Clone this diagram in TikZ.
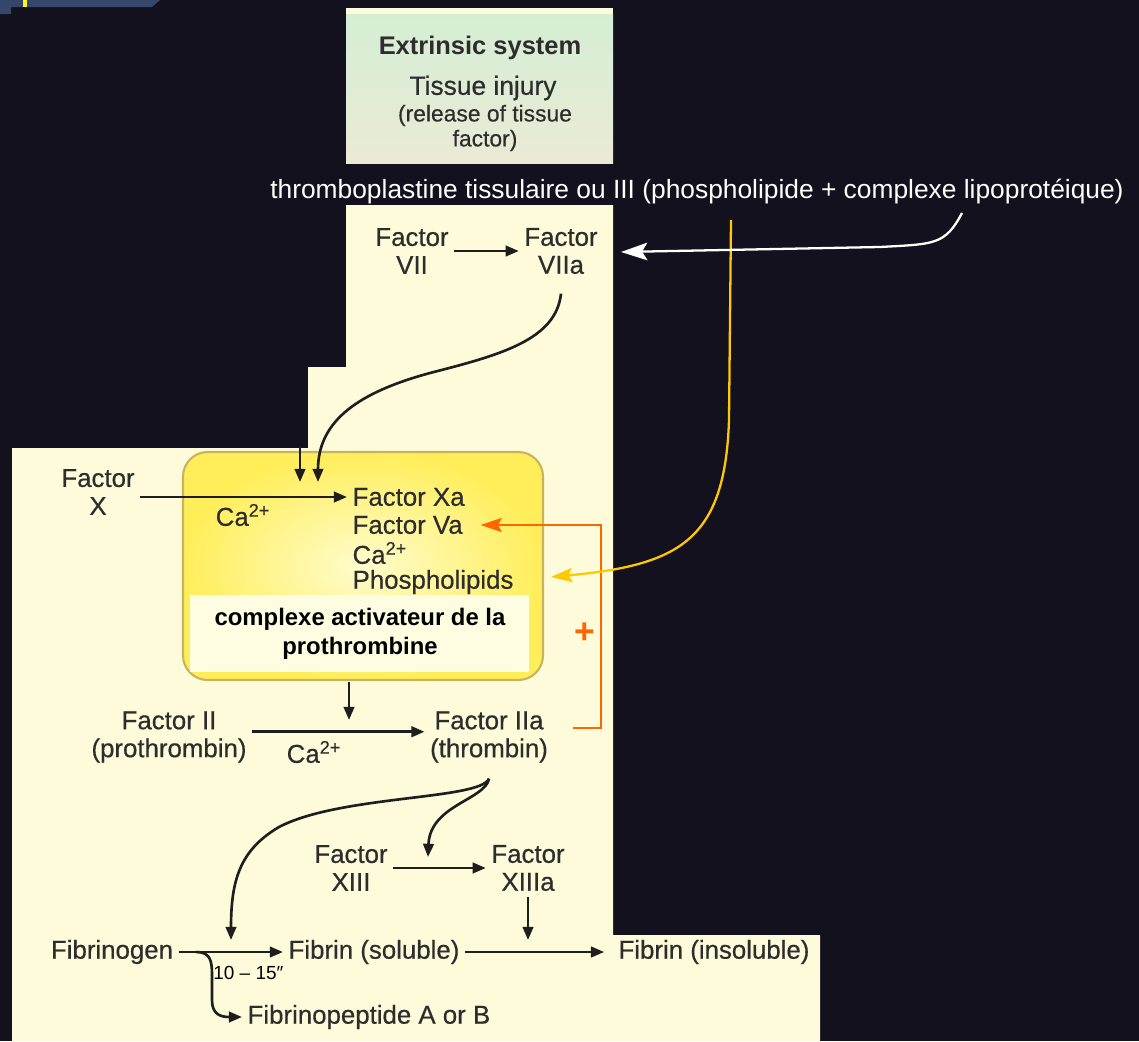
\documentclass[tikz,border=0pt]{standalone}
\usepackage{fontspec}
\setmainfont{Liberation Sans}
\newfontfamily\medfont[FakeBold=0.5]{Liberation Sans}
\usetikzlibrary{arrows.meta}
\definecolor{bgdark}{RGB}{18,17,29}
\definecolor{slideblue}{RGB}{52,71,107}
\definecolor{panel}{RGB}{253,251,218}
\definecolor{extgreen}{RGB}{212,238,212}
\definecolor{extgray}{RGB}{235,234,214}
\definecolor{boxedge}{RGB}{200,180,95}
\definecolor{boxin}{RGB}{255,252,205}
\definecolor{boxout}{RGB}{255,238,90}
\definecolor{labelfill}{RGB}{255,253,225}
\definecolor{txtgray}{RGB}{45,45,45}
\definecolor{arrgray}{RGB}{30,30,30}
\definecolor{linkyellow}{RGB}{255,200,0}
\definecolor{fborange}{RGB}{255,102,0}
\begin{document}
\begin{tikzpicture}[x=0.02cm, y=-0.02cm,
	lbl/.style={font=\medfont\fontsize{14.7}{15.9}\selectfont, text=txtgray, inner sep=3pt, align=center},
	arr/.style={line width=1.5pt, draw=arrgray, -{Triangle[length=7.5pt,width=6pt]}},
	wht/.style={line width=1.3pt, draw=white, -{Stealth[length=15pt,width=10pt,inset=3pt]}},
	ylw/.style={line width=1.3pt, draw=linkyellow, -{Stealth[length=12pt,width=8pt,inset=2pt]}},
	orng/.style={line width=1.3pt, draw=fborange, -{Stealth[length=12pt,width=8pt,inset=2pt]}}]
	\fill[bgdark] (0,0) rectangle (1139,1041);
	\useasboundingbox (0,0) rectangle (1139,1041);
	\fill[slideblue] (0,0) -- (160,0) -- (152,7) -- (11,7) -- (11,14) -- (0,14) -- cycle;
	\fill[yellow!90!white] (23,0) rectangle (27,7);
	
	\fill[panel] (346,205) -- (613,205) -- (613,935) -- (820,935) -- (820,1041) -- (12,1041) -- (12,448) -- (308,448) -- (308,367) -- (346,367) -- cycle;
	\fill[panel] (346,8) rectangle (613,14);
	\shade[top color=extgreen, bottom color=extgray] (346,14) rectangle (613,163);
	\shadedraw[inner color=boxin, outer color=boxout, draw=boxedge, line width=1.2pt, rounded corners=14pt] (183,452) rectangle (543,680);
	\fill[labelfill] (190,595) rectangle (529,672);
	
	\node[lbl, font=\bfseries\fontsize{14.5}{16}\selectfont] (extT) at (480,48) {Extrinsic system};
	\node[lbl, font=\medfont\fontsize{15}{16}\selectfont] (extI) at (483,88) {Tissue injury};
	\node[lbl, font=\medfont\fontsize{13}{14.2}\selectfont] (extR) at (485,128) {(release of tissue\\factor)};
	\node[font=\fontsize{15}{18}\selectfont, text=white] (thr) at (697,192) {thromboplastine tissulaire ou III (phospholipide + complexe lipoprotéique)};
	
	\node[lbl] (f7) at (412,251) {Factor\\VII};
	\node[lbl] (f7a) at (561,251) {Factor\\VIIa};
	\node[lbl] (fX) at (98,492) {Factor\\X};
	\node[lbl] (caA) at (243,515) {Ca\textsuperscript{2+}};
	\node[lbl, anchor=west] (xa) at (347,497) {Factor Xa};
	\node[lbl, anchor=west] (va) at (347,525) {Factor Va};
	\node[lbl, anchor=west] (caB) at (347,553) {Ca\textsuperscript{2+}};
	\node[lbl, anchor=west] (pl) at (347,582) {Phospholipids};
	\node[lbl, font=\bfseries\fontsize{13.6}{16.4}\selectfont, text=black] (cplx) at (360,634) {complexe activateur de la\\prothrombine};
	\node[text=fborange, font=\bfseries\fontsize{20}{20}\selectfont] (plus) at (585,633) {+};
	\node[lbl] (f2) at (169,737) {Factor II\\(prothrombin)};
	\node[lbl] (caC) at (314,752) {Ca\textsuperscript{2+}};
	\node[lbl] (f2a) at (489,737) {Factor IIa\\(thrombin)};
	\node[lbl] (f13) at (351,868) {Factor\\XIII};
	\node[lbl] (f13a) at (528,868) {Factor\\XIIIa};
	\node[lbl] (fbg) at (112,952) {Fibrinogen};
	\node[lbl] (fbs) at (374,952) {Fibrin (soluble)};
	\node[lbl] (fbi) at (714,952) {Fibrin (insoluble)};
	\node[lbl, anchor=west] (fpep) at (242,1017) {Fibrinopeptide A or B};
	\node[font=\fontsize{10.8}{12}\selectfont, text=black, anchor=west, inner sep=0pt] (dt) at (213,973) {10 – 15″};
	
	\coordinate (vIn) at (318,482);
	\coordinate (pIn0) at (300,446);
	\coordinate (pIn) at (300,482);
	\coordinate (bxOut) at (349,682);
	\coordinate (bxIn) at (349,720);
	\coordinate (fbA) at (573,728);
	\coordinate (fbB) at (601,728);
	\coordinate (yS) at (731,220);
	\coordinate (yE) at (551,577);
	\coordinate (wS) at (962,213);
	\coordinate (wE) at (621,252);
	\coordinate (thA) at (231,940);
	\coordinate (thB) at (428,857);
	\coordinate (xiiiIn) at (528,940);
	\coordinate (fbgBr) at (196,952);
	
	\draw[arr] (f7.east) -- (f7a.west);
	\draw[arr] ([yshift=-8pt]f7a.south) .. controls (556,340) and (500,355) .. (430,373) .. controls (360,392) and (318,420) .. (vIn);
	\draw[arr] (pIn0) -- (pIn);
	\draw[arr] (fX.east |- xa.west) -- (xa.west);
	\draw[arr] (bxOut) -- (bxIn);
	\draw[arr] ([yshift=3pt]f2.east) -- ([yshift=3pt]f2a.west);
	\draw[arr] ([yshift=-6pt]f2a.south) .. controls (480,800) and (340,795) .. (279,827) .. controls (240,850) and (231,880) .. (thA);
	\draw[arr] ([yshift=-6pt]f2a.south) .. controls (485,800) and (430,805) .. (thB);
	\draw[arr] (f13.east) -- (f13a.west);
	\draw[arr] (f13a.south) -- (xiiiIn);
	\draw[arr] (fbg.east) -- (fbs.west);
	\draw[arr, shorten >=5pt] (fbs.east) -- (fbi.west);
	\draw[arr] (fbgBr) .. controls (210,952) and (212,960) .. (212,975) -- (212,1000) .. controls (212,1014) and (220,1017) .. (fpep.west);
	
	\draw[orng] (fbA) -- (fbB) |- ([xshift=7pt]va.east);
	\draw[ylw] (yS) -- (729,420) .. controls (725,540) and (680,565) .. (yE);
	\draw[wht] (wS) .. controls (945,245) and (935,244) .. (880,247) -- (wE);
\end{tikzpicture}
\end{document}
